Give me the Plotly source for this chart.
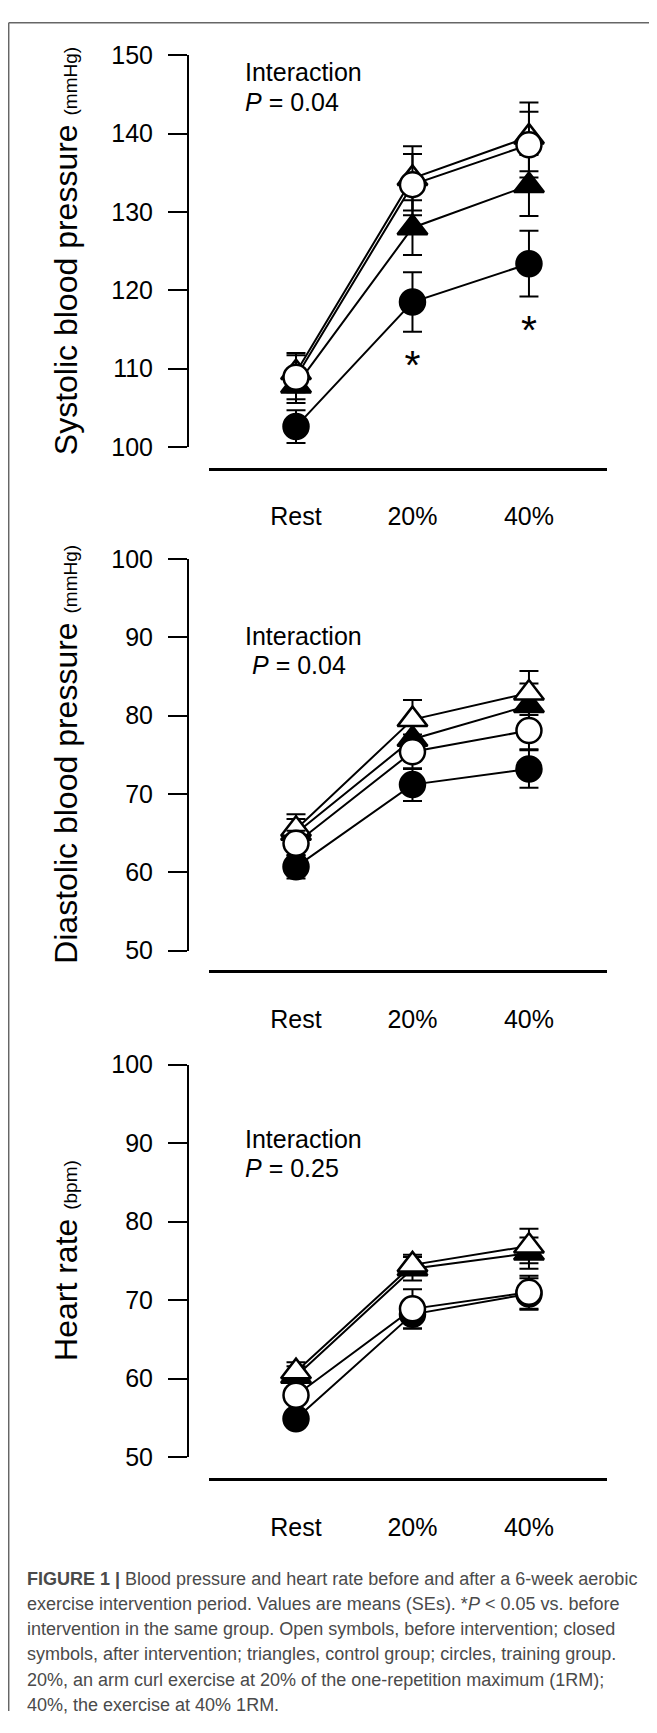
import plotly.graph_objects as go

# page body has an 8px default margin, so the figure is drawn 8px in from the window edge
OFF = 8
W, H = 657 - 2 * OFF, 1733 - 2 * OFF

# ---------------- data ----------------
categories = ["Rest", "20%", "40%"]

# Systolic blood pressure (mmHg)
sbp_ctrl_pre = [109.5, 134.3, 139.6]
sbp_ctrl_pre_se = [2.5, 4.1, 4.4]
sbp_ctrl_post = [107.8, 128.0, 133.4]
sbp_ctrl_post_se = [2.2, 3.5, 3.9]
sbp_train_pre = [108.9, 133.5, 138.6]
sbp_train_pre_se = [2.8, 3.9, 4.2]
sbp_train_post = [102.6, 118.5, 123.4]
sbp_train_post_se = [2.1, 3.8, 4.2]
sbp_sig = [False, True, True]

# Diastolic blood pressure (mmHg)
dbp_ctrl_pre = [65.5, 79.5, 82.9]
dbp_ctrl_pre_se = [1.9, 2.5, 2.8]
dbp_ctrl_post = [65.0, 77.0, 81.3]
dbp_ctrl_post_se = [1.8, 2.4, 2.8]
dbp_train_pre = [63.7, 75.4, 78.1]
dbp_train_pre_se = [1.6, 2.2, 2.4]
dbp_train_post = [60.7, 71.2, 73.2]
dbp_train_post_se = [1.5, 2.1, 2.4]
dbp_sig = [False, False, False]

# Heart rate (bpm)
hr_ctrl_pre = [60.9, 74.5, 76.9]
hr_ctrl_pre_se = [1.2, 1.3, 2.2]
hr_ctrl_post = [60.3, 74.0, 76.0]
hr_ctrl_post_se = [1.3, 1.5, 2.0]
hr_train_pre = [57.9, 68.9, 71.0]
hr_train_pre_se = [1.0, 2.5, 2.1]
hr_train_post = [54.9, 68.2, 70.8]
hr_train_post_se = [1.0, 1.8, 2.0]
hr_sig = [False, False, False]

y_ranges = [[100, 150], [50, 100], [50, 100]]
y_titles = ["Systolic blood pressure", "Diastolic blood pressure", "Heart rate"]
y_units = ["(mmHg)", "(mmHg)", "(bpm)"]
interaction_p = ["0.04", "0.04", "0.25"]

caption_lines = [
    "<b>FIGURE 1 |</b> Blood pressure and heart rate before and after a 6-week aerobic",
    "exercise intervention period. Values are means (SEs). *<i>P</i> &lt; 0.05 vs. before",
    "intervention in the same group. Open symbols, before intervention; closed",
    "symbols, after intervention; triangles, control group; circles, training group.",
    "20%, an arm curl exercise at 20% of the one-repetition maximum (1RM);",
    "40%, the exercise at 40% 1RM.",
]

panels = [
    dict(ctrl_pre=(sbp_ctrl_pre, sbp_ctrl_pre_se), ctrl_post=(sbp_ctrl_post, sbp_ctrl_post_se),
         train_pre=(sbp_train_pre, sbp_train_pre_se), train_post=(sbp_train_post, sbp_train_post_se),
         sig=sbp_sig),
    dict(ctrl_pre=(dbp_ctrl_pre, dbp_ctrl_pre_se), ctrl_post=(dbp_ctrl_post, dbp_ctrl_post_se),
         train_pre=(dbp_train_pre, dbp_train_pre_se), train_post=(dbp_train_post, dbp_train_post_se),
         sig=dbp_sig),
    dict(ctrl_pre=(hr_ctrl_pre, hr_ctrl_pre_se), ctrl_post=(hr_ctrl_post, hr_ctrl_post_se),
         train_pre=(hr_train_pre, hr_train_pre_se), train_post=(hr_train_post, hr_train_post_se),
         sig=hr_sig),
]

# ---------------- layout geometry (window pixels) ----------------
FONT = "Liberation Sans, Arial, Helvetica, sans-serif"
panel_px = [  # y top (max), y bottom (min), x-axis line, interaction line1, line2, p indent
    dict(top=42, bot=440, xline=462, i1=59, i2=89, pind=0),
    dict(top=554, bot=952, xline=973, i1=632, i2=662, pind=7),
    dict(top=1068, bot=1467, xline=1489, i1=1144, i2=1173, pind=0),
]
YAXIS_X = 188
XDOM = (209, 607)
CAT_RANGE = [-0.747, 2.67]


def px(x):
    return (x - OFF) / W


def py(y):
    return 1 - (y - OFF) / H


fig = go.Figure()
layout = dict(
    width=W, height=H, autosize=False,
    margin=dict(l=0, r=0, t=0, b=0),
    paper_bgcolor="white", plot_bgcolor="white",
    showlegend=False,
    font=dict(family=FONT, color="black"),
)
annotations = []
shapes = []

series_styles = [
    # key, symbol, fill, size
    ("ctrl_post", "triangle-up", "black", 26),
    ("ctrl_pre", "triangle-up", "white", 26),
    ("train_post", "circle", "black", 25),
    ("train_pre", "circle", "white", 25),
]

for i, (pan, g) in enumerate(zip(panels, panel_px)):
    sfx = "" if i == 0 else str(i + 1)
    xa, ya = "x" + sfx, "y" + sfx
    for key, sym, fill, msize in series_styles:
        vals, se = pan[key]
        fig.add_trace(go.Scatter(
            x=categories, y=vals, xaxis=xa, yaxis=ya,
            mode="lines+markers",
            line=dict(color="black", width=2),
            marker=dict(symbol=sym, size=msize, color=fill,
                        line=dict(color="black", width=2.5)),
            error_y=dict(type="data", array=se, visible=True, color="black",
                         thickness=2, width=9.5),
            cliponaxis=False, hoverinfo="skip",
        ))
    # significance asterisks below training-post error bars
    tv, tse = pan["train_post"]
    sx = [c for c, s in zip(categories, pan["sig"]) if s]
    sy = [v - e - 4.7 for v, e, s in zip(tv, tse, pan["sig"]) if s]
    if sx:
        fig.add_trace(go.Scatter(
            x=sx, y=sy, xaxis=xa, yaxis=ya, mode="text", text=["*"] * len(sx),
            textfont=dict(size=41, color="black", family=FONT),
            textposition="middle center", cliponaxis=False, hoverinfo="skip",
        ))

    layout["xaxis" + sfx] = dict(
        domain=[px(XDOM[0]), px(XDOM[1])], anchor="free", position=py(g["xline"]),
        type="category", range=CAT_RANGE, showline=True, linecolor="black", linewidth=2.5,
        ticks="outside", ticklen=25, tickcolor="rgba(0,0,0,0)",
        tickfont=dict(size=25, family=FONT, color="black"),
        showgrid=False, zeroline=False, fixedrange=True,
    )
    layout["yaxis" + sfx] = dict(
        domain=[py(g["bot"]), py(g["top"])], anchor="free", position=px(YAXIS_X),
        range=y_ranges[i], dtick=10, tick0=0, showline=True, linecolor="black", linewidth=2,
        ticks="outside", ticklen=19, tickwidth=2, tickcolor="black",
        ticklabelstandoff=10,
        tickfont=dict(size=25, family=FONT, color="black"),
        showgrid=False, zeroline=False, fixedrange=True,
    )
    # y title
    annotations.append(dict(
        xref="paper", yref="paper", x=px(66), y=py((g["top"] + g["bot"]) / 2),
        text=f"{y_titles[i]} <span style='font-size:19px'>{y_units[i]}</span>",
        textangle=-90, showarrow=False, xanchor="center", yanchor="middle",
        font=dict(size=32, family=FONT, color="black"),
    ))
    # interaction text
    annotations.append(dict(
        xref="paper", yref="paper", x=px(243), y=py(g["i1"]), text="Interaction",
        showarrow=False, xanchor="left", yanchor="middle",
        font=dict(size=25, family=FONT, color="black"),
    ))
    annotations.append(dict(
        xref="paper", yref="paper", x=px(243 + g["pind"]), y=py(g["i2"]),
        text=f"<i>P</i> = {interaction_p[i]}",
        showarrow=False, xanchor="left", yanchor="middle",
        font=dict(size=25, family=FONT, color="black"),
    ))

# caption
for k, line in enumerate(caption_lines):
    annotations.append(dict(
        xref="paper", yref="paper", x=px(25), y=py(1591 + 25.5 * k), text=line,
        showarrow=False, xanchor="left", yanchor="middle",
        font=dict(size=18, family=FONT, color="#4a4a4a"),
    ))

# frame (top and left edges)
shapes.append(dict(type="line", xref="paper", yref="paper", x0=px(8.7), x1=1, y0=py(8.7), y1=py(8.7),
                   line=dict(color="#666666", width=1.5)))
shapes.append(dict(type="line", xref="paper", yref="paper", x0=px(8.7), x1=px(8.7), y0=py(8.7), y1=0,
                   line=dict(color="#666666", width=1.5)))

layout["annotations"] = annotations
layout["shapes"] = shapes
fig.update_layout(**layout)
fig.write_html("out.html")
